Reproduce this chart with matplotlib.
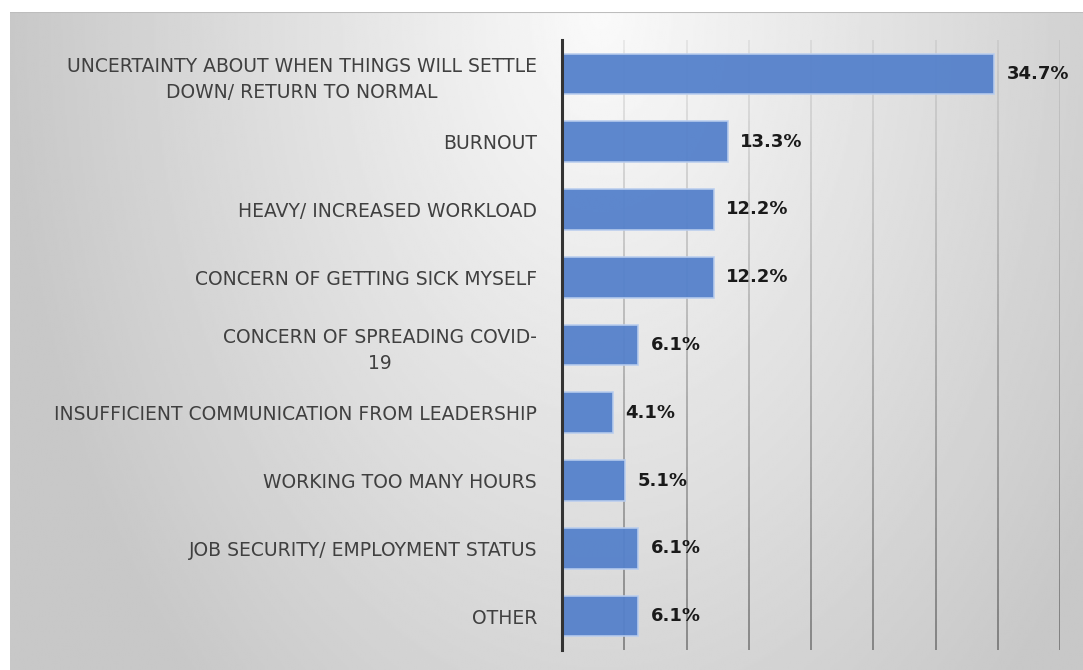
import numpy as np
import matplotlib.pyplot as plt
from matplotlib.collections import LineCollection

# stress sources, listed top to bottom
categories = [
    "UNCERTAINTY ABOUT WHEN THINGS WILL SETTLE\nDOWN/ RETURN TO NORMAL",
    "BURNOUT",
    "HEAVY/ INCREASED WORKLOAD",
    "CONCERN OF GETTING SICK MYSELF",
    "CONCERN OF SPREADING COVID-\n19",
    "INSUFFICIENT COMMUNICATION FROM LEADERSHIP",
    "WORKING TOO MANY HOURS",
    "JOB SECURITY/ EMPLOYMENT STATUS",
    "OTHER",
]
values = [34.7, 13.3, 12.2, 12.2, 6.1, 4.1, 5.1, 6.1, 6.1]
value_labels = ["34.7%", "13.3%", "12.2%", "12.2%", "6.1%", "4.1%", "5.1%", "6.1%", "6.1%"]

W, H = 1083, 670
fig = plt.figure(figsize=(W / 100, H / 100), dpi=100)
fig.patch.set_facecolor("white")

# radial grey backdrop behind the whole chart area
bg = fig.add_axes([10 / W, 0, 1 - 10 / W, 1 - 12 / H])
ny, nx = 330, 540
yy, xx = np.mgrid[0:ny, 0:nx]
dx = (xx / nx - 0.55) / 0.55
dy = (yy / ny) * 0.72
d = np.sqrt(dx ** 2 + dy ** 2)
shade = np.clip(250 - 50 * d, 200, 250) / 255
bg.imshow(shade, cmap="gray", vmin=0, vmax=1, aspect="auto",
          extent=[0, 1, 0, 1], interpolation="bilinear")
bg.axhline(1, color="#bdbdbd", lw=1.5)
bg.set_xlim(0, 1)
bg.set_ylim(0, 1)
bg.axis("off")

ax = fig.add_axes([562 / W, 20 / H, 498 / W, 610 / H])
ax.patch.set_alpha(0)
y = np.arange(len(categories))
ax.barh(y, values, height=0.6, color="#5581cb", alpha=0.95,
        edgecolor="#b9cdee", linewidth=1.2, zorder=3)

ax.set_xlim(0, 40)
ax.set_ylim(len(categories) - 0.5, -0.5)
ax.set_xticks(np.arange(0, 41, 5))
ax.tick_params(axis="x", length=0, labelbottom=False)

# vertical gridlines that darken towards the bottom
ys = np.linspace(-0.5, len(categories) - 0.5, 61)
segs, cols = [], []
for gx in ax.get_xticks()[1:]:
    for k in range(len(ys) - 1):
        segs.append([(gx, ys[k]), (gx, ys[k + 1])])
        a = 0.06 + 0.30 * (k / (len(ys) - 2))
        cols.append((0, 0, 0, a))
ax.add_collection(LineCollection(segs, colors=cols, linewidths=1.4,
                                 capstyle="butt", zorder=1))

ax.set_yticks(y)
ax.set_yticklabels(categories, fontsize=13.5, color="#404040",
                   linespacing=1.45, multialignment="center")
ax.tick_params(axis="y", length=0, pad=18)

for s in ["top", "right", "bottom"]:
    ax.spines[s].set_visible(False)
ax.spines["left"].set_color("#333333")
ax.spines["left"].set_linewidth(2.2)
ax.spines["left"].set_zorder(4)

for yi, v, lab in zip(y, values, value_labels):
    ax.annotate(lab, (v, yi), xytext=(9, 0), textcoords="offset points",
                ha="left", va="center", fontsize=13, fontweight="bold",
                color="#1a1a1a", zorder=5)

fig.savefig("out.png", dpi=100)
